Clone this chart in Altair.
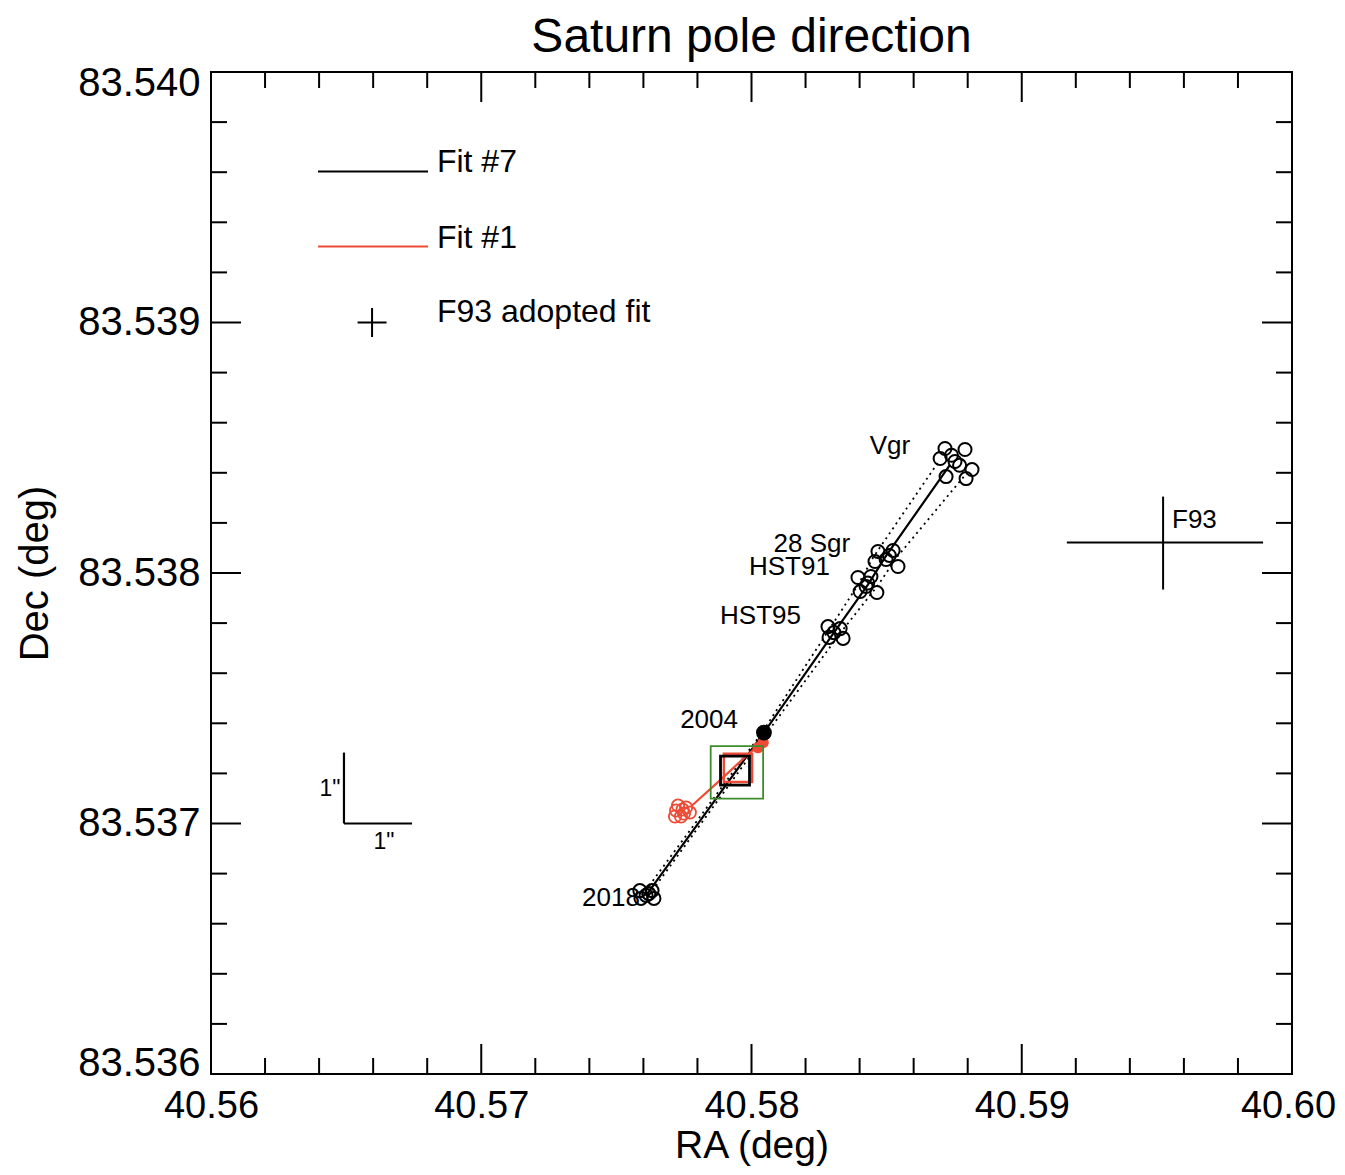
import altair as alt
import pandas as pd

F = "Liberation Sans"
W, H = 1081, 1002

# ---- axis ticks ----
ra_major = [40.56, 40.57, 40.58, 40.59, 40.60]
ra_minor = [40.562, 40.564, 40.566, 40.568, 40.572, 40.574, 40.576, 40.578,
            40.582, 40.584, 40.586, 40.588, 40.592, 40.594, 40.596, 40.598]
dec_major = [83.536, 83.537, 83.538, 83.539, 83.540]
dec_minor = [83.5362, 83.5364, 83.5366, 83.5368, 83.5372, 83.5374, 83.5376, 83.5378,
             83.5382, 83.5384, 83.5386, 83.5388, 83.5392, 83.5394, 83.5396, 83.5398]

# ---- Fit #7 (black) epoch circles ----
epoch_circle_ra = [40.58716, 40.58790, 40.58698, 40.58753, 40.58816, 40.58720, 40.58794, 40.58740, 40.58770,
                   40.58468, 40.58524, 40.58498, 40.58542, 40.58457, 40.58510,
                   40.58394, 40.58442, 40.58424, 40.58464, 40.58402, 40.58430,
                   40.58283, 40.58328, 40.58305, 40.58287, 40.58339,
                   40.57587, 40.57632, 40.57610, 40.57591, 40.57639, 40.57620]
epoch_circle_dec = [83.538497, 83.538493, 83.538457, 83.538445, 83.538413, 83.538385, 83.538377, 83.538470, 83.538430,
                    83.538086, 83.538090, 83.538054, 83.538026, 83.538046, 83.538070,
                    83.537982, 83.537986, 83.537946, 83.537922, 83.537926, 83.537960,
                    83.537786, 83.537778, 83.537762, 83.537743, 83.537739,
                    83.536732, 83.536732, 83.536713, 83.536701, 83.536701, 83.536720]

# solid fit line through epochs (2018, 2004, HST95, HST91, 28 Sgr, Vgr)
fit7_ra = [40.57610, 40.58046, 40.58305, 40.58431, 40.58494, 40.58735]
fit7_dec = [83.536713, 83.537363, 83.537762, 83.537954, 83.538062, 83.538433]

# dotted envelopes
env_left_ra = [40.57595, 40.58039, 40.58280, 40.58395, 40.58450, 40.58690]
env_left_dec = [83.536713, 83.537363, 83.537762, 83.537954, 83.538062, 83.538441]
env_right_ra = [40.57620, 40.58058, 40.58330, 40.58470, 40.58537, 40.58805]
env_right_dec = [83.536713, 83.537363, 83.537762, 83.537954, 83.538062, 83.538410]

# 2004 epoch (filled)
e2004_ra = [40.58046]
e2004_dec = [83.537363]

# ---- Fit #1 (red) ----
fit1_ra = [40.58054, 40.57987, 40.57883, 40.57780]
fit1_dec = [83.537335, 83.537276, 83.537172, 83.537072]
fit1_circle_ra = [40.57721, 40.57758, 40.57739, 40.57772, 40.57728, 40.57750, 40.57717, 40.57745]
fit1_circle_dec = [83.537052, 83.537064, 83.537028, 83.537044, 83.537072, 83.537040, 83.537028, 83.537056]
fit1_dot_ra = [40.58024, 40.58043]
fit1_dot_dec = [83.537303, 83.537323]

# ---- pole boxes ----
green_box_ra, green_box_dec = 40.57946, 83.537204
red_box_ra, red_box_dec = 40.57950, 83.537222
black_box_ra, black_box_dec = 40.57939, 83.537211

# ---- F93 cross ----
f93_ra = 40.59523
f93_dec = 83.538122
f93_ra_lo, f93_ra_hi = 40.59167, 40.59893
f93_dec_lo, f93_dec_hi = 83.537934, 83.538305

# ---- 1" scale bar ----
bar_ra0, bar_ra1 = 40.56492, 40.56744
bar_dec0, bar_dec1 = 83.537, 83.537283

# ---- legend entries ----
leg_ra0, leg_ra1 = 40.56396, 40.56803
leg_line_dec = [83.539603, 83.539303]
leg_line_color = ["black", "#ee4b36"]
leg_plus_ra, leg_plus_dec = 40.56596, 83.539000
leg_text = ["Fit #7", "Fit #1", "F93 adopted fit"]
leg_text_ra = [40.56836, 40.56836, 40.56836]
leg_text_dec = [83.539639, 83.539339, 83.539040]

# ---- epoch labels ----
lab_text = ["Vgr", "28 Sgr", "HST91", "HST95", "2004", "2018"]
lab_ra = [40.58587, 40.58365, 40.58290, 40.58183, 40.57950, 40.57587]
lab_dec = [83.538505, 83.538114, 83.538022, 83.537830, 83.537415, 83.536701]

sc_text = ['1"', '1"']
sc_ra = [40.56440, 40.56640]
sc_dec = [83.537136, 83.536928]

# =====================================================
xs = alt.Scale(domain=[40.56, 40.60], nice=False, zero=False)
ys = alt.Scale(domain=[83.536, 83.540], nice=False, zero=False)

xax = alt.Axis(values=ra_major, format=".2f", ticks=False, tickSize=0, domain=False, grid=False,
               labelFontSize=38, labelFont=F, labelColor="black", labelPadding=13,
               labelFlush=False, labelOverlap=False,
               labelOffset={"condition": {"test": "datum.value > 40.599", "value": -4}, "value": 0},
               title="RA (deg)", titleFontSize=39, titleFont=F, titleFontWeight="normal",
               titleColor="black", titlePadding=1)
yax = alt.Axis(values=dec_major, format=".3f", ticks=False, tickSize=0, domain=False, grid=False,
               labelFontSize=40, labelFont=F, labelColor="black", labelPadding=11,
               labelFlush=True, labelFlushOffset=9, labelOverlap=False,
               title="Dec (deg)", titleFontSize=40, titleFont=F, titleFontWeight="normal",
               titleColor="black", titlePadding=22)


def X(f):
    return alt.X(f, type="quantitative", scale=xs, axis=xax)


def Y(f):
    return alt.Y(f, type="quantitative", scale=ys, axis=yax)


layers = []

# ticks on all four sides (inward)
dxmaj = pd.DataFrame({"ra": ra_major})
dxmin = pd.DataFrame({"ra": ra_minor})
dymaj = pd.DataFrame({"dec": dec_major})
dymin = pd.DataFrame({"dec": dec_minor})
for d, ln in [(dxmaj, 30), (dxmin, 16)]:
    layers.append(alt.Chart(d).mark_rule(color="black", strokeWidth=2).encode(
        x=X("ra"), y=alt.value(H), y2=alt.value(H - ln)))
    layers.append(alt.Chart(d).mark_rule(color="black", strokeWidth=2).encode(
        x=X("ra"), y=alt.value(0), y2=alt.value(ln)))
for d, ln in [(dymaj, 30), (dymin, 16)]:
    layers.append(alt.Chart(d).mark_rule(color="black", strokeWidth=2).encode(
        y=Y("dec"), x=alt.value(0), x2=alt.value(ln)))
    layers.append(alt.Chart(d).mark_rule(color="black", strokeWidth=2).encode(
        y=Y("dec"), x=alt.value(W), x2=alt.value(W - ln)))

# dotted envelopes
env = pd.DataFrame({
    "ra": env_left_ra + env_right_ra,
    "dec": env_left_dec + env_right_dec,
    "side": ["L"] * len(env_left_ra) + ["R"] * len(env_right_ra),
    "i": list(range(len(env_left_ra))) + list(range(len(env_right_ra))),
})
layers.append(alt.Chart(env).mark_line(color="black", strokeWidth=1.8, strokeDash=[2, 4]).encode(
    x=X("ra"), y=Y("dec"), detail="side:N", order="i:Q"))

# solid Fit #7 line
fit7 = pd.DataFrame({"ra": fit7_ra, "dec": fit7_dec, "i": range(len(fit7_ra))})
layers.append(alt.Chart(fit7).mark_line(color="black", strokeWidth=2.2).encode(
    x=X("ra"), y=Y("dec"), order="i:Q"))

# black epoch circles
circ = pd.DataFrame({"ra": epoch_circle_ra, "dec": epoch_circle_dec})
layers.append(alt.Chart(circ).mark_point(shape="circle", filled=False, color="black",
                                         size=170, strokeWidth=2, opacity=1).encode(
    x=X("ra"), y=Y("dec")))

# red Fit #1
fit1 = pd.DataFrame({"ra": fit1_ra, "dec": fit1_dec, "i": range(len(fit1_ra))})
layers.append(alt.Chart(fit1).mark_line(color="#ee4b36", strokeWidth=2.2).encode(
    x=X("ra"), y=Y("dec"), order="i:Q"))
rc = pd.DataFrame({"ra": fit1_circle_ra, "dec": fit1_circle_dec})
layers.append(alt.Chart(rc).mark_point(shape="circle", filled=False, color="#ee4b36",
                                       size=150, strokeWidth=1.8, opacity=1).encode(
    x=X("ra"), y=Y("dec")))
rd = pd.DataFrame({"ra": fit1_dot_ra, "dec": fit1_dot_dec})
layers.append(alt.Chart(rd).mark_point(shape="circle", filled=True, color="#ee4b36",
                                       size=130, opacity=1).encode(
    x=X("ra"), y=Y("dec")))

# 2004 filled
e4 = pd.DataFrame({"ra": e2004_ra, "dec": e2004_dec})
layers.append(alt.Chart(e4).mark_point(shape="circle", filled=True, color="black",
                                       size=250, opacity=1).encode(
    x=X("ra"), y=Y("dec")))

# boxes
for bra, bdec, col, sz, sw in [(green_box_ra, green_box_dec, "#3c8c2c", 2750, 1.8),
                               (red_box_ra, red_box_dec, "#ee4b36", 800, 2.4),
                               (black_box_ra, black_box_dec, "black", 840, 2.8)]:
    bd = pd.DataFrame({"ra": [bra], "dec": [bdec]})
    layers.append(alt.Chart(bd).mark_point(shape="square", filled=False, opacity=1, color=col,
                                           size=sz, strokeWidth=sw).encode(
        x=X("ra"), y=Y("dec")))

# F93 cross
f93h = pd.DataFrame({"ra": [f93_ra_lo], "ra2": [f93_ra_hi], "dec": [f93_dec]})
f93v = pd.DataFrame({"ra": [f93_ra], "dec": [f93_dec_lo], "dec2": [f93_dec_hi]})
layers.append(alt.Chart(f93h).mark_rule(color="black", strokeWidth=2).encode(
    x=X("ra"), x2="ra2", y=Y("dec")))
layers.append(alt.Chart(f93v).mark_rule(color="black", strokeWidth=2).encode(
    x=X("ra"), y=Y("dec"), y2="dec2"))

# scale bar
bh = pd.DataFrame({"ra": [bar_ra0], "ra2": [bar_ra1], "dec": [bar_dec0]})
bv = pd.DataFrame({"ra": [bar_ra0], "dec": [bar_dec0], "dec2": [bar_dec1]})
layers.append(alt.Chart(bh).mark_rule(color="black", strokeWidth=2.2).encode(
    x=X("ra"), x2="ra2", y=Y("dec")))
layers.append(alt.Chart(bv).mark_rule(color="black", strokeWidth=2.2).encode(
    x=X("ra"), y=Y("dec"), y2="dec2"))

# legend lines
ll = pd.DataFrame({"ra": [leg_ra0] * 2, "ra2": [leg_ra1] * 2, "dec": leg_line_dec, "c": leg_line_color})
layers.append(alt.Chart(ll).mark_rule(strokeWidth=2).encode(
    x=X("ra"), x2="ra2", y=Y("dec"), color=alt.Color("c:N", scale=None)))
lp = pd.DataFrame({"ra": [leg_plus_ra], "dec": [leg_plus_dec]})
layers.append(alt.Chart(lp).mark_point(shape="M-1,0L1,0M0,-1L0,1", filled=False, color="black",
                                       size=840, strokeWidth=2, opacity=1).encode(
    x=X("ra"), y=Y("dec")))
lt = pd.DataFrame({"ra": leg_text_ra, "dec": leg_text_dec, "t": leg_text})
layers.append(alt.Chart(lt).mark_text(align="left", baseline="middle", fontSize=32, font=F,
                                      color="black").encode(
    x=X("ra"), y=Y("dec"), text="t:N"))

# epoch labels
lb = pd.DataFrame({"ra": lab_ra, "dec": lab_dec, "t": lab_text})
layers.append(alt.Chart(lb).mark_text(align="right", baseline="middle", fontSize=26, font=F,
                                      color="black").encode(
    x=X("ra"), y=Y("dec"), text="t:N"))
f93t = pd.DataFrame({"ra": [40.59556], "dec": [83.538210], "t": ["F93"]})
layers.append(alt.Chart(f93t).mark_text(align="left", baseline="middle", fontSize=26, font=F,
                                        color="black").encode(
    x=X("ra"), y=Y("dec"), text="t:N"))
sct = pd.DataFrame({"ra": sc_ra, "dec": sc_dec, "t": sc_text})
layers.append(alt.Chart(sct).mark_text(align="center", baseline="middle", fontSize=23, font=F,
                                       color="black").encode(
    x=X("ra"), y=Y("dec"), text="t:N"))

chart = alt.layer(*layers).properties(
    width=W, height=H,
    title=alt.TitleParams("Saturn pole direction", fontSize=48, font=F, fontWeight="normal",
                          color="black", anchor="middle", offset=1),
    autosize=alt.AutoSizeParams(type="none"),
    padding={"left": 203, "top": 64, "right": 45, "bottom": 93},
).configure_view(stroke="black", strokeWidth=2)

chart.save("out.html", embed_options={"renderer": "svg", "actions": False})
